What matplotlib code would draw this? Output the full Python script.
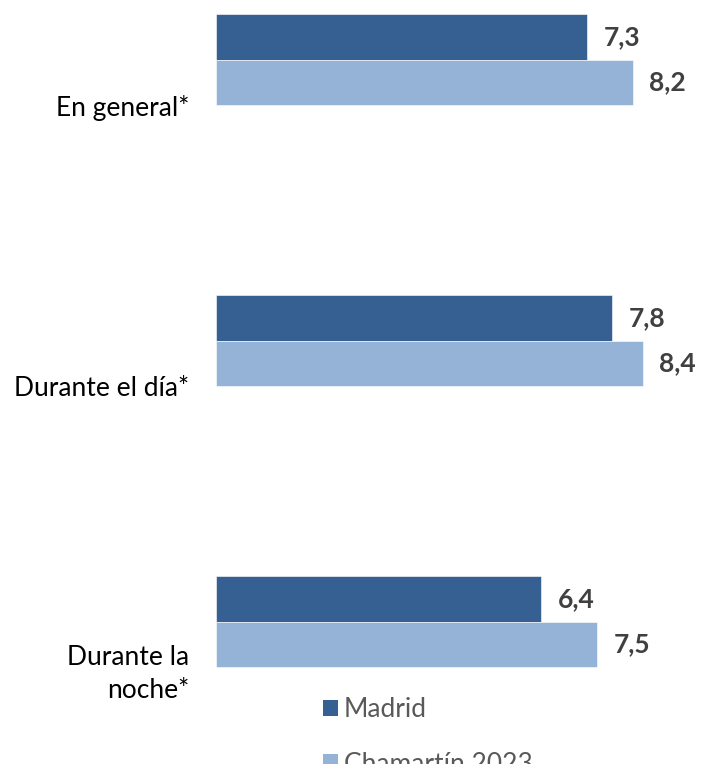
import matplotlib.pyplot as plt
from matplotlib.patches import Patch

plt.rcParams['font.family'] = ['Lato', 'DejaVu Sans']

categories = ['En general*', 'Durante el día*', 'Durante la\nnoche*']
madrid = [7.3, 7.8, 6.4]
chamartin = [8.2, 8.4, 7.5]
series_names = ['Madrid', 'Chamartín 2023']

c_madrid = '#366092'
c_chama = '#95b3d7'
txt_dark = '#404040'
txt_grey = '#595959'

fig = plt.figure(figsize=(7.05, 7.64), dpi=100)
ax = fig.add_axes([216 / 705, 0, 508 / 705, 1])

h = 0.162
ypos = range(len(categories))
ax.barh([y - 1.5 * h for y in ypos], madrid, height=h, color=c_madrid,
        edgecolor='white', linewidth=0.4)
ax.barh([y - 0.5 * h for y in ypos], chamartin, height=h, color=c_chama,
        edgecolor='white', linewidth=0.4)

for y, m, c in zip(ypos, madrid, chamartin):
    ax.annotate(f'{m:.1f}'.replace('.', ','), (m, y - 1.5 * h), xytext=(12, 0),
                textcoords='offset points', va='center', ha='left',
                fontsize=19, fontweight='bold', color=txt_dark)
    ax.annotate(f'{c:.1f}'.replace('.', ','), (c, y - 0.5 * h), xytext=(12, 0),
                textcoords='offset points', va='center', ha='left',
                fontsize=19, fontweight='bold', color=txt_dark)

ax.set_xlim(0, 10)
ax.set_ylim(2.345, -0.374)
ax.set_yticks(list(ypos))
ax.set_yticklabels(categories, fontsize=19, color='black', ha='right')
for lbl in ax.get_yticklabels():
    lbl.set_linespacing(1.4)
ax.tick_params(axis='y', length=0, pad=19)
ax.set_xticks([])
for s in ax.spines.values():
    s.set_visible(False)

handles = [Patch(facecolor=c_madrid), Patch(facecolor=c_chama)]
fig.legend(handles, series_names, loc='upper left',
           bbox_to_anchor=(323 / 705, 1 - 697 / 764),
           frameon=False, fontsize=19, labelcolor=txt_grey, handlelength=0.55,
           handleheight=0.55, handletextpad=0.25, labelspacing=1.12,
           borderpad=0, borderaxespad=0)

fig.savefig('out.png', dpi=100)
